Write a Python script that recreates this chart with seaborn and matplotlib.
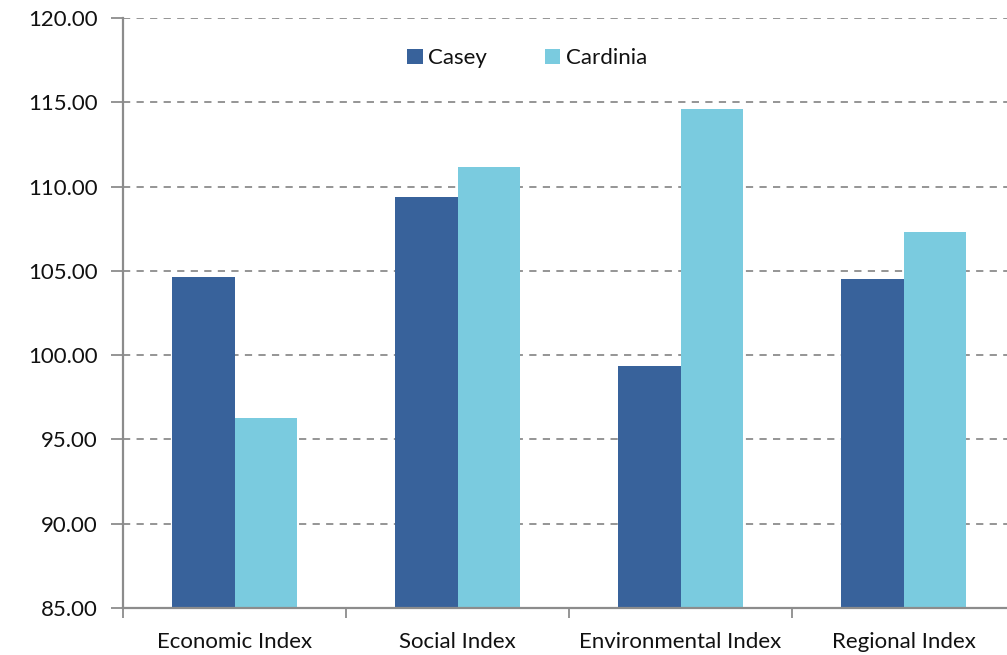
import matplotlib
matplotlib.use("Agg")
import matplotlib.pyplot as plt
import seaborn as sns
import pandas as pd
from matplotlib.ticker import FormatStrFormatter, FixedLocator

categories = ["Economic Index", "Social Index", "Environmental Index", "Regional Index"]
casey = [104.66, 109.41, 99.38, 104.54]
cardinia = [96.30, 111.19, 114.58, 107.31]
series_names = ["Casey", "Cardinia"]
y_ticks = [85, 90, 95, 100, 105, 110, 115, 120]

df = pd.DataFrame({
    "category": categories * 2,
    "series": [series_names[0]] * len(categories) + [series_names[1]] * len(categories),
    "value": casey + cardinia,
})

sns.set_theme(style="white")
plt.rcParams["font.family"] = ["Lato", "DejaVu Sans"]

fig = plt.figure(figsize=(10.07, 6.55), dpi=100)
ax = fig.add_axes([123 / 1007, 1 - 608 / 655, 892 / 1007, 590 / 655])

palette = {"Casey": "#38629B", "Cardinia": "#7ACBDF"}
sns.barplot(data=df, x="category", y="value", hue="series", order=categories,
            hue_order=series_names, palette=palette, width=0.565, linewidth=0,
            saturation=1, ax=ax, zorder=2)

ax.set_ylim(85, 120)
ax.set_xlim(-0.5, 3.5)
ax.set_yticks(y_ticks)
ax.yaxis.set_major_formatter(FormatStrFormatter("%.2f"))
ax.set_xlabel("")
ax.set_ylabel("")

grid_color = "#8C8C8C"
ax.set_axisbelow(True)
ax.yaxis.grid(True, linestyle=(0, (4, 3.5)), color=grid_color, linewidth=1.3, zorder=0)
ax.xaxis.grid(False)

for side in ["top", "right"]:
    ax.spines[side].set_visible(False)
for side in ["left", "bottom"]:
    ax.spines[side].set_color(grid_color)
    ax.spines[side].set_linewidth(1.6)

ax.tick_params(axis="y", which="major", left=True, length=9, width=1.3, color=grid_color,
               labelsize=16, pad=9, labelcolor="#111111")
ax.tick_params(axis="x", which="major", bottom=False, length=0, labelsize=16, pad=17,
               labelcolor="#111111")
ax.xaxis.set_minor_locator(FixedLocator([-0.5, 0.5, 1.5, 2.5, 3.5]))
ax.tick_params(axis="x", which="minor", bottom=True, length=7, width=1.3, color=grid_color)

ax.legend(loc="center", bbox_to_anchor=(0.453, 0.932), ncol=2, frameon=False,
          fontsize=16, handlelength=0.7, handleheight=0.7, handletextpad=0.25,
          columnspacing=2.6, labelcolor="#111111")

fig.savefig("out.png", dpi=100)
